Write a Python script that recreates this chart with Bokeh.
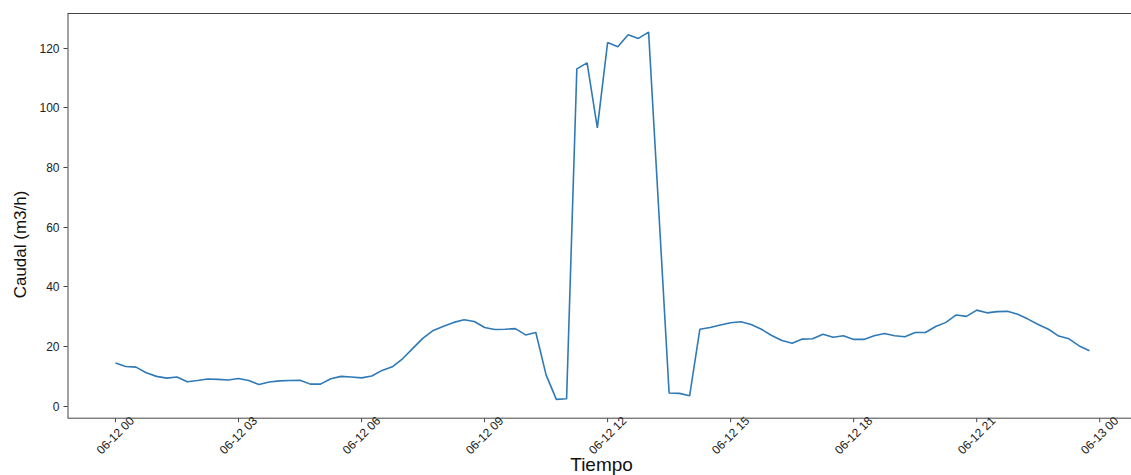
import math
import pandas as pd
from bokeh.plotting import figure
from bokeh.models import FixedTicker, LinearAxis, Range1d, ColumnDataSource
from bokeh.core.properties import value
from bokeh.embed import file_html
from bokeh.resources import INLINE

# ---- data (15-minute samples, 06-12 00:00 .. 23:45) ----
start_time = "2021-06-12 00:00"
n_points = 96
caudal = [14.5, 13.3, 13.1, 11.2, 10.0, 9.4, 9.8, 8.2, 8.6, 9.1, 9.0, 8.8,
          9.3, 8.6, 7.3, 8.1, 8.5, 8.6, 8.7, 7.4, 7.4, 9.2, 10.0, 9.8,
          9.5, 10.1, 12.0, 13.2, 15.9, 19.4, 22.8, 25.4, 26.8, 28.1, 29.0, 28.4,
          26.4, 25.7, 25.8, 26.0, 23.9, 24.7, 10.5, 2.3, 2.5, 113.1, 115.1, 93.3,
          121.9, 120.5, 124.5, 123.3, 125.4, 65.0, 4.4, 4.3, 3.5, 25.8, 26.4, 27.2,
          28.0, 28.3, 27.4, 25.8, 23.7, 22.0, 21.1, 22.5, 22.6, 24.1, 23.1, 23.6,
          22.4, 22.4, 23.6, 24.4, 23.6, 23.3, 24.7, 24.7, 26.7, 28.1, 30.6, 30.1,
          32.2, 31.3, 31.7, 31.8, 30.8, 29.2, 27.4, 25.8, 23.5, 22.6, 20.2, 18.6]
y_ticks = [0, 20, 40, 60, 80, 100, 120]
x_tick_hours = [0, 3, 6, 9, 12, 15, 18, 21, 24]
x_label = "Tiempo"
y_label = "Caudal (m3/h)"

times = pd.date_range(start_time, periods=n_points, freq="15min")
t0 = pd.Timestamp(start_time)
src = ColumnDataSource(data=dict(t=times, v=caudal))

# ---- geometry ----
W, H = 1131, 475
frame_left, frame_top = 67, 13
axis_px = 417.7          # pixel row of the bottom spine
zero_px = 405.7          # pixel row of y = 0
ppu = 2.983              # pixels per y unit
step_ms = 15 * 60 * 1000
t0_ms = t0.value / 1e6
x_start = t0_ms - 4.68 * step_ms
x_end = t0_ms + 99.1 * step_ms
y_end = (zero_px - frame_top) / ppu
y_start = (zero_px - H) / ppu
y_axis = (zero_px - axis_px) / ppu


def y_at(px):
    return (zero_px - px) / ppu


p = figure(width=W, height=H, output_backend="svg", toolbar_location=None,
           x_range=Range1d(x_start, x_end), y_range=Range1d(y_start, y_end),
           min_border_left=frame_left, min_border_right=0, min_border_top=frame_top,
           min_border_bottom=0)
p.outline_line_color = None
p.grid.visible = False
p.xaxis.visible = False
p.background_fill_color = "white"
p.border_fill_color = "white"

font = "Liberation Sans"
axis_col = "#444444"
text_col = "#222222"

p.line("t", "v", source=src, line_color="#2f7ab6", line_width=1.6)

# y axis (ticks + labels via Bokeh, spine drawn separately so it stops at the x spine)
ya = p.yaxis[0]
ya.ticker = FixedTicker(ticks=y_ticks)
ya.major_label_text_font = font
ya.major_label_text_font_size = "12px"
ya.major_label_text_color = text_col
ya.major_label_standoff = 4
ya.major_tick_out = 4
ya.major_tick_in = 0
ya.minor_tick_out = 0
ya.minor_tick_in = 0
ya.axis_line_color = None
ya.major_tick_line_color = axis_col
ya.axis_label = y_label
ya.axis_label_text_font = font
ya.axis_label_text_font_size = "17px"
ya.axis_label_text_font_style = "normal"
ya.axis_label_text_color = "#111111"
ya.axis_label_standoff = 6

top = LinearAxis(major_tick_out=0, major_tick_in=0, minor_tick_out=0, minor_tick_in=0,
                 major_label_text_font_size="0px", major_label_standoff=0,
                 axis_line_color=axis_col, ticker=FixedTicker(ticks=[]))
p.add_layout(top, "above")

# spines: left and bottom
p.segment(x0=[x_start], y0=[y_axis], x1=[x_start], y1=[y_end],
          line_color=axis_col, line_width=2)
p.segment(x0=[x_start], y0=[y_axis], x1=[x_end], y1=[y_axis],
          line_color=axis_col, line_width=1)

# x ticks and rotated tick labels (centred under the tick)
tick_ms = [t0_ms + h * 3600 * 1000 for h in x_tick_hours]
tick_txt = [pd.Timestamp(t0 + pd.Timedelta(hours=h)).strftime("%m-%d %H") for h in x_tick_hours]
p.segment(x0=tick_ms, y0=[y_axis] * len(tick_ms), x1=tick_ms,
          y1=[y_at(axis_px + 4)] * len(tick_ms), line_color=axis_col, line_width=1)
p.text(x=tick_ms, y=[y_at(435)] * len(tick_ms), text=tick_txt, angle=math.pi / 4,
       text_align="center", text_baseline="middle", text_font=value(font),
       text_font_size="12px", text_color=text_col)

# x axis title
p.text(x=[(x_start + x_end) / 2 + 0.2 * step_ms], y=[y_at(474)], text=[x_label],
       text_align="center", text_baseline="bottom", text_font=value(font),
       text_font_size="19px", text_color="#111111")

open("out.html", "w").write(file_html(p, INLINE))
